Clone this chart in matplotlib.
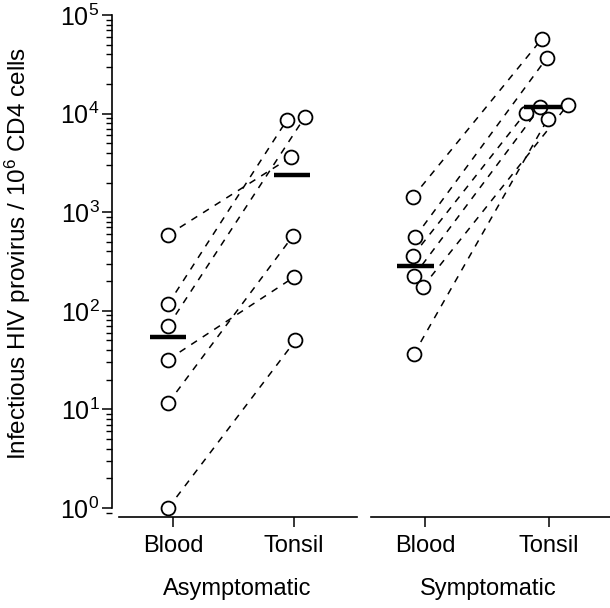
import matplotlib.pyplot as plt
from matplotlib.ticker import LogLocator, NullFormatter, FixedLocator

plt.rcParams['font.family'] = ['Liberation Sans', 'DejaVu Sans']
plt.rcParams['mathtext.fontset'] = 'custom'
plt.rcParams['mathtext.rm'] = 'Liberation Sans'
plt.rcParams['mathtext.it'] = 'Liberation Sans:italic'

# data (infectious provirus per 10^6 CD4 cells)
sites = ['Blood', 'Tonsil']
groups = ['Asymptomatic', 'Symptomatic']

asym_blood = [590, 117, 70, 32, 11.6, 1.0]
asym_tonsil = [3600, 8600, 9300, 220, 575, 50]
asym_medians = [54, 2400]

sym_blood = [1420, 560, 360, 226, 174, 36.5]
sym_tonsil = [57000, 36500, 10200, 11700, 12300, 8900]
sym_medians = [285, 11700]

# small horizontal offsets of the circles, as in the figure
asym_dx = ([-0.04] * 6, [-0.03, -0.06, 0.09, 0.0, -0.01, 0.01])
sym_dx = ([-0.1, -0.08, -0.1, -0.09, -0.02, -0.09],
          [-0.06, -0.02, -0.19, -0.07, 0.15, -0.01])

fontsize = 17
W, H = 610, 608
fig = plt.figure(figsize=(W / 100, H / 100), dpi=100)

ylo, yhi = 10 ** -0.091, 10 ** 5.0
ax1 = fig.add_axes([112 / W, (H - 517) / H, 250 / W, 502 / H])
ax2 = fig.add_axes([366 / W, (H - 517) / H, 244 / W, 502 / H])


def draw(ax, blood, tonsil, medians, dx, group, xlim, xbounds, centers):
    for b, t, d0, d1 in zip(blood, tonsil, dx[0], dx[1]):
        ax.plot([0 + d0, 1 + d1], [b, t], color='black', lw=1.1,
                dashes=(4.5, 4.5), zorder=1)
        ax.plot([0 + d0, 1 + d1], [b, t], ls='none', marker='o', ms=10,
                mfc='white', mec='black', mew=1.3, zorder=3)
    for c, m in zip(centers, medians):
        ax.plot([c - 0.15, c + 0.15], [m, m], color='black', lw=3.2,
                solid_capstyle='butt', zorder=4)
    ax.set_yscale('log')
    ax.set_ylim(ylo, yhi)
    ax.set_xlim(*xlim)
    ax.set_xticks([0, 1])
    ax.set_xticklabels(sites, fontsize=fontsize)
    ax.tick_params(axis='x', direction='out', length=7, width=1.1, pad=6)
    ax.spines['top'].set_visible(False)
    ax.spines['right'].set_visible(False)
    ax.spines['bottom'].set_bounds(*xbounds)
    ax.spines['bottom'].set_linewidth(1.2)
    ax.set_xlabel(group, fontsize=fontsize, labelpad=15)


draw(ax1, asym_blood, asym_tonsil, asym_medians, asym_dx, groups[0],
     (-0.504, 1.56), (-0.446, 1.52), (-0.04, 0.98))
draw(ax2, sym_blood, sym_tonsil, sym_medians, sym_dx, groups[1],
     (-0.476, 1.49), (-0.435, 1.49), (-0.08, 0.95))

# y axis only on the left panel
ax1.spines['left'].set_bounds(1, 1e5)
ax1.spines['left'].set_linewidth(1.2)
ax1.yaxis.set_major_locator(FixedLocator([10 ** k for k in range(6)]))
ax1.yaxis.set_minor_locator(LogLocator(base=10, subs=range(2, 10), numticks=20))
ax1.yaxis.set_minor_formatter(NullFormatter())
ax1.set_yticklabels([r'$\mathregular{10^{%d}}$' % k for k in range(6)], fontsize=18)
ax1.tick_params(axis='y', which='major', direction='out', length=7, width=1.1, pad=2)
ax1.tick_params(axis='y', which='minor', direction='out', length=4, width=1.0)
ax1.set_ylim(ylo, yhi)

ax2.spines['left'].set_visible(False)
ax2.set_yticks([])
ax2.yaxis.set_minor_locator(FixedLocator([]))

fig.text(18 / W, 1 - 253 / H, r'Infectious HIV provirus / $\mathregular{10^{6}}$ CD4 cells',
         rotation=90, ha='center', va='center', fontsize=17.5)

plt.savefig('out.png', dpi=100)
